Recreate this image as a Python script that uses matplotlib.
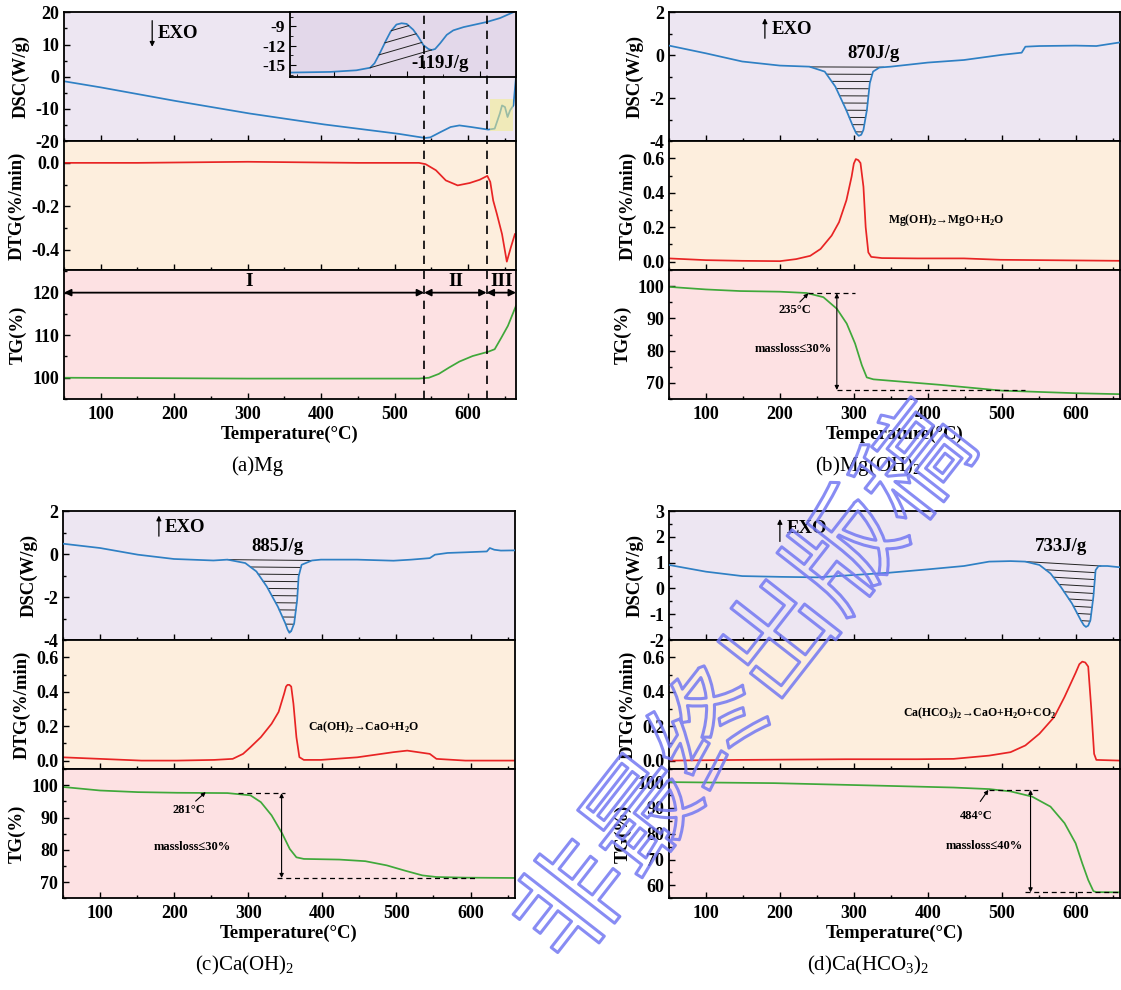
import numpy as np
import matplotlib
matplotlib.use('Agg')
import matplotlib.pyplot as plt
from matplotlib.ticker import MultipleLocator, FormatStrFormatter
from matplotlib.patches import Rectangle
from matplotlib.lines import Line2D
import matplotlib.transforms as mtransforms
import matplotlib.patheffects as pe

plt.rcParams['font.family'] = ['Liberation Serif', 'DejaVu Serif']
plt.rcParams['font.weight'] = 'bold'
plt.rcParams['axes.labelweight'] = 'bold'
plt.rcParams['mathtext.fontset'] = 'custom'
plt.rcParams['mathtext.rm'] = 'Liberation Serif:regular'
plt.rcParams['mathtext.bf'] = 'Liberation Serif:bold'
plt.rcParams['axes.unicode_minus'] = False

# ---------------- data ----------------
# (a) Mg
a_dsc_T = [50, 100, 201.5, 302.5, 404, 505, 530, 541.5, 548.5, 562, 576, 588, 604, 627, 636, 643, 646, 650, 653.5, 657, 661.5, 665]
a_dsc = [-1.4, -3.3, -7.5, -11.4, -14.8, -17.7, -18.6, -19.0, -18.8, -17.2, -15.6, -15.1, -15.6, -16.4, -16.1, -11.4, -8.9, -9.4, -12.5, -10.4, -8.9, 0.0]
a_in_T = [624, 629.5, 633.1, 635, 635.6, 636.3, 637.2, 637.8, 638.6, 639.3, 640, 640.9, 641.6, 642.3, 643, 643.4, 643.9, 644.6, 645.5, 646.4, 647.8, 651, 652.8, 654.6]
a_in = [-16.15, -16.05, -15.8, -15.4, -14.7, -13.2, -11.1, -9.8, -8.7, -8.5, -8.6, -9.5, -10.6, -11.9, -12.5, -12.65, -12.5, -11.6, -10.3, -9.6, -9.1, -8.3, -7.7, -6.8]
a_dtg_T = [50, 150, 300, 450, 533, 542, 556, 569.5, 585.6, 602, 615.5, 626, 630, 634, 639, 646, 652.5, 658, 663.5]
a_dtg = [0.0, 0.0, 0.005, 0.0, 0.0, -0.006, -0.034, -0.081, -0.104, -0.093, -0.078, -0.06, -0.088, -0.174, -0.236, -0.329, -0.456, -0.39, -0.329]
a_tg_T = [50, 300, 533, 546.5, 560, 574, 588, 606, 627, 636, 645, 654, 665]
a_tg = [100, 99.8, 99.8, 100, 100.9, 102.4, 103.8, 105.1, 106.1, 106.7, 109.4, 112.2, 116.9]

# (b) Mg(OH)2
b_dsc_T = [50, 100, 149, 200, 240, 260.6, 275, 289.6, 299, 303, 306.6, 310, 313, 317.7, 321.6, 326, 334.6, 350, 400, 449, 500, 527, 532, 551, 600, 628, 660]
b_dsc = [0.45, 0.09, -0.29, -0.48, -0.53, -0.76, -1.46, -2.54, -3.32, -3.62, -3.75, -3.7, -3.47, -2.54, -1.30, -0.76, -0.57, -0.53, -0.34, -0.22, 0.02, 0.12, 0.40, 0.43, 0.45, 0.43, 0.60]
b_dtg_T = [50, 100, 149, 200, 222, 241, 255, 270, 280, 290, 297, 300, 302.7, 306, 309, 313, 316, 319.6, 323.5, 338, 386, 449, 498, 660]
b_dtg = [0.018, 0.008, 0.004, 0.002, 0.014, 0.033, 0.073, 0.151, 0.229, 0.357, 0.494, 0.57, 0.596, 0.59, 0.573, 0.435, 0.2, 0.053, 0.027, 0.02, 0.018, 0.018, 0.01, 0.004]
b_tg_T = [50, 100, 146, 200, 236, 258.8, 277, 290.4, 301.7, 310.8, 317.5, 326.5, 416.7, 500, 600, 660]
b_tg = [99.8, 99.0, 98.5, 98.3, 97.9, 96.6, 93.0, 88.4, 82.2, 75.5, 71.7, 71.1, 69.4, 67.6, 66.8, 66.5]

# (c) Ca(OH)2
c_dsc_T = [50, 100, 151, 199.7, 253, 272, 296, 311, 325, 340, 350, 353, 355.5, 358, 362, 366, 368, 372, 386, 398, 447, 496, 520, 545, 552, 569, 593, 622, 626, 632, 641, 660]
c_dsc = [0.48, 0.28, -0.03, -0.23, -0.30, -0.26, -0.42, -0.81, -1.51, -2.45, -3.22, -3.5, -3.66, -3.58, -3.22, -2.13, -1.04, -0.50, -0.30, -0.26, -0.26, -0.31, -0.26, -0.19, -0.03, 0.05, 0.08, 0.12, 0.28, 0.20, 0.16, 0.17]
c_dtg_T = [50, 100, 156, 204, 254, 279, 293, 303, 317, 331.5, 341, 348.5, 351, 353, 355.5, 358, 361, 365, 369, 375, 398, 447, 496, 514.6, 529, 545, 554, 593, 660]
c_dtg = [0.019, 0.010, 0.0, 0.0, 0.004, 0.010, 0.039, 0.078, 0.136, 0.214, 0.283, 0.39, 0.43, 0.44, 0.44, 0.43, 0.33, 0.136, 0.02, 0.004, 0.004, 0.019, 0.049, 0.058, 0.049, 0.039, 0.01, 0.0, 0.0]
c_tg_T = [50, 100, 151, 204, 272, 303, 317, 331.5, 346, 356, 365, 375, 423, 458, 487, 511, 535, 554, 593, 660]
c_tg = [99.5, 98.4, 97.9, 97.7, 97.6, 96.9, 94.8, 90.7, 85.0, 80.3, 77.7, 77.2, 77.0, 76.5, 75.2, 73.6, 72.1, 71.6, 71.4, 71.3]

# (d) Ca(HCO3)2
d_dsc_T = [50, 100, 149, 200, 251, 299, 348, 400, 449, 483, 512, 532, 551, 566, 580, 595, 607, 611, 614, 617, 620, 624, 627, 631, 643, 660]
d_dsc = [0.91, 0.65, 0.48, 0.45, 0.43, 0.52, 0.61, 0.74, 0.87, 1.04, 1.06, 1.04, 0.91, 0.58, 0.06, -0.58, -1.23, -1.42, -1.49, -1.44, -1.23, -0.32, 0.71, 0.87, 0.87, 0.82]
d_dtg_T = [50, 144, 290, 386, 435, 483, 512, 532, 551, 571, 585, 600, 605, 609, 613, 617, 621, 625, 628, 660]
d_dtg = [0.0, 0.004, 0.008, 0.008, 0.01, 0.029, 0.049, 0.088, 0.156, 0.253, 0.37, 0.51, 0.56, 0.575, 0.57, 0.546, 0.31, 0.039, 0.004, 0.0]
d_tg_T = [50, 193, 338, 435, 483, 512, 541, 566, 585, 600, 609, 617, 624, 628, 660]
d_tg = [100, 99.6, 98.6, 97.9, 97.3, 96.4, 94.4, 90.5, 84.1, 76.3, 68.5, 62.1, 57.8, 57.4, 57.3]

captions = ['(a)Mg', '(b)Mg(OH)$_2$', '(c)Ca(OH)$_2$', '(d)Ca(HCO$_3$)$_2$']
enthalpy = ['-119J/g', '870J/g', '885J/g', '733J/g']
reactions = ['', 'Mg(OH)$_\\mathbf{2}$→MgO+H$_\\mathbf{2}$O',
             'Ca(OH)$_\\mathbf{2}$→CaO+H$_\\mathbf{2}$O',
             'Ca(HCO$_\\mathbf{3}$)$_\\mathbf{2}$→CaO+H$_\\mathbf{2}$O+CO$_\\mathbf{2}$']
onsets = ['', '235°C', '281°C', '484°C']
masslosses = ['', 'massloss≤30%', 'massloss≤30%', 'massloss≤40%']
stages = ['I', 'II', 'III']

# ---------------- style ----------------
C_DSC, C_DTG, C_TG = '#2f80c4', '#e82424', '#3fa83a'
BG_DSC, BG_DTG, BG_TG, BG_IN = '#ede6f2', '#fdeedd', '#fde1e3', '#e3d8ea'
W, H = 1121, 990
fig = plt.figure(figsize=(W / 100, H / 100), dpi=100)
all_axes = []


def panel(x0px, wpx, top_px, bot_px):
    h = (bot_px - top_px) / 3.0
    axs = []
    for i in range(3):
        t = top_px + i * h
        axs.append(fig.add_axes([x0px / W, 1 - (t + h) / H, wpx / W, h / H]))
    return axs


def style(ax, xlim, ylim, major, minor, fmt=None, xlabels=False, bg='w'):
    ax.set_facecolor(bg)
    ax.set_xlim(*xlim)
    ax.set_ylim(*ylim)
    ax.xaxis.set_major_locator(MultipleLocator(100))
    ax.xaxis.set_minor_locator(MultipleLocator(50))
    ax.yaxis.set_major_locator(MultipleLocator(major))
    ax.yaxis.set_minor_locator(MultipleLocator(minor))
    if fmt:
        ax.yaxis.set_major_formatter(FormatStrFormatter(fmt))
    ax.tick_params(which='both', direction='in', top=False, right=False, labelsize=13, width=1.0)
    ax.tick_params(which='major', length=4.5)
    ax.tick_params(which='minor', length=2.5)
    ax.tick_params(axis='x', labelbottom=xlabels, pad=5)
    for s in ax.spines.values():
        s.set_linewidth(1.3)
    if xlabels:
        ax.set_xlabel('Temperature(°C)', fontsize=13.5, labelpad=2)
    all_axes.append(ax)


def hatch(ax, T, Y, xa, xb, step, n, sign=-1, lw=0.7):
    Tg = np.linspace(min(T), max(T), 6000)
    Yg = np.interp(Tg, T, Y)
    ya, yb = np.interp(xa, T, Y), np.interp(xb, T, Y)
    slope = (yb - ya) / (xb - xa)
    ax.plot([xa, xb], [ya, yb], color='#222222', lw=lw, zorder=2)
    rng = (Tg >= xa) & (Tg <= xb)
    idx = np.where(rng)[0]
    ext = idx[np.argmax(sign * Yg[idx])]
    for k in range(1, n):
        line = ya + slope * (Tg - xa) + sign * k * step
        inside = sign * (Yg - line) > 0
        if not inside[ext]:
            continue
        i0 = ext
        while i0 > 0 and inside[i0 - 1]:
            i0 -= 1
        i1 = ext
        while i1 < len(Tg) - 1 and inside[i1 + 1]:
            i1 += 1
        ax.plot([Tg[i0], Tg[i1]], [line[i0], line[i1]], color='#222222', lw=lw, zorder=2)


def exo(ax, x, y0, y1, tx, ty):
    ax.annotate('', xy=(x, y1), xytext=(x, y0),
                arrowprops=dict(arrowstyle='-|>', color='k', lw=0.9, mutation_scale=7, shrinkA=0, shrinkB=0))
    ax.text(tx, ty, 'EXO', fontsize=13.5, ha='left', va='center')


def tg_annot(ax, i, xt0, xt1, ytop, xarr, ybot, xb0, xb1, lpos, arr0, arr1, mpos):
    ds = (0, (4, 3))
    ax.plot([xt0, xt1], [ytop, ytop], ls=ds, color='k', lw=0.9)
    ax.plot([xb0, xb1], [ybot, ybot], ls=ds, color='k', lw=0.9)
    ax.annotate('', xy=(xarr, ybot), xytext=(xarr, ytop),
                arrowprops=dict(arrowstyle='<|-|>', color='k', lw=0.8, mutation_scale=6, shrinkA=0, shrinkB=0))
    ax.annotate('', xy=arr1, xytext=arr0,
                arrowprops=dict(arrowstyle='-|>', color='k', lw=0.8, mutation_scale=6, shrinkA=0, shrinkB=0))
    ax.text(*lpos, onsets[i], fontsize=9, ha='center', va='center')
    ax.text(*mpos, masslosses[i], fontsize=9, ha='center', va='center')


LW = 1.25
# ---------------- (a) ----------------
axa = panel(64, 452, 12.3, 399)
style(axa[0], (50, 665), (-20, 20), 10, 5, bg=BG_DSC)
style(axa[1], (50, 665), (-0.495, 0.10), 0.2, 0.1, '%.1f', bg=BG_DTG)
style(axa[2], (50, 665), (95, 125.3), 10, 5, xlabels=True, bg=BG_TG)
axa[0].plot(a_dsc_T, a_dsc, color=C_DSC, lw=LW)
axa[0].add_patch(Rectangle((630, -16.9), 31, 10.1, facecolor='#f3ee8a', alpha=0.55, edgecolor='none', zorder=3))
axa[1].plot(a_dtg_T, a_dtg, color=C_DTG, lw=LW)
axa[2].plot(a_tg_T, a_tg, color=C_TG, lw=LW)
exo(axa[0], 170, 17.4, 9.3, 178, 13.4)

axin = axa[0].inset_axes([0.5, 0.5, 0.5, 0.5])
axin.set_facecolor(BG_IN)
axin.set_xlim(624, 655)
axin.set_ylim(-16.8, -6.8)
axin.xaxis.set_major_locator(MultipleLocator(10))
axin.xaxis.set_minor_locator(MultipleLocator(5))
axin.yaxis.set_major_locator(MultipleLocator(3))
axin.yaxis.set_minor_locator(MultipleLocator(1.5))
axin.tick_params(which='both', direction='in', top=False, right=False, labelbottom=False, labelsize=12.5)
axin.tick_params(which='major', length=4)
axin.tick_params(which='minor', length=2)
for s in axin.spines.values():
    s.set_linewidth(1.3)
axin.plot(a_in_T, a_in, color=C_DSC, lw=LW)
hatch(axin, a_in_T, a_in, 635, 643.4, 1.6, 4, sign=1)
axin.text(644.6, -14.7, enthalpy[0], fontsize=13.5, ha='center', va='center')
all_axes.append(axin)

# stage arrows
bounds = [50, 540, 625, 665]
for j in range(3):
    axa[2].annotate('', xy=(bounds[j + 1], 120), xytext=(bounds[j], 120),
                    arrowprops=dict(arrowstyle='<|-|>', color='k', lw=1.3, mutation_scale=10, shrinkA=0, shrinkB=0))
for lab, x in zip(stages, [302, 583, 646]):
    axa[2].text(x, 122.6, lab, fontsize=14, ha='center', va='center')

# dashed vertical lines across all three panels
top_f = axa[0].get_position().y1
bot_f = axa[2].get_position().y0
tr = mtransforms.blended_transform_factory(axa[2].transData, fig.transFigure)
for xv in [540, 625]:
    fig.add_artist(Line2D([xv, xv], [bot_f, top_f], transform=tr, color='k', lw=1.2,
                          ls=(0, (5, 4)), zorder=20))

# ---------------- (b) ----------------
axb = panel(669, 451, 12.3, 399)
style(axb[0], (50, 660), (-4, 2), 2, 1, bg=BG_DSC)
style(axb[1], (50, 660), (-0.05, 0.70), 0.2, 0.1, '%.1f', bg=BG_DTG)
style(axb[2], (50, 660), (65, 105), 10, 5, xlabels=True, bg=BG_TG)
axb[0].plot(b_dsc_T, b_dsc, color=C_DSC, lw=LW, zorder=3)
hatch(axb[0], b_dsc_T, b_dsc, 241, 340, 0.335, 10)
axb[0].text(326, 0.1, enthalpy[1], fontsize=13.5, ha='center', va='center')
exo(axb[0], 179.7, 0.79, 1.72, 189.4, 1.21)
axb[1].plot(b_dtg_T, b_dtg, color=C_DTG, lw=LW)
axb[1].text(346.8, 0.239, reactions[1], fontsize=8.5, ha='left', va='center')
axb[2].plot(b_tg_T, b_tg, color=C_TG, lw=LW)
tg_annot(axb[2], 1, 238.5, 301.7, 97.8, 277, 67.8, 277, 531.7, (220.5, 92.5), (227, 95.1), (238.5, 97.8), (218, 80.5))

# ---------------- (c) ----------------
axc = panel(63, 452, 511, 898.3)
style(axc[0], (50, 660), (-4, 2), 2, 1, bg=BG_DSC)
style(axc[1], (50, 660), (-0.05, 0.70), 0.2, 0.1, '%.1f', bg=BG_DTG)
style(axc[2], (50, 660), (65, 105), 10, 5, xlabels=True, bg=BG_TG)
axc[0].plot(c_dsc_T, c_dsc, color=C_DSC, lw=LW, zorder=3)
hatch(axc[0], c_dsc_T, c_dsc, 272, 386, 0.33, 11)
axc[0].text(340, 0.36, enthalpy[2], fontsize=13.5, ha='center', va='center')
exo(axc[0], 179.4, 0.83, 1.79, 187.6, 1.21)
axc[1].plot(c_dtg_T, c_dtg, color=C_DTG, lw=LW)
axc[1].text(380, 0.195, reactions[2], fontsize=8.5, ha='left', va='center')
axc[2].plot(c_tg_T, c_tg, color=C_TG, lw=LW)
tg_annot(axc[2], 2, 286, 349, 97.6, 345, 71.3, 339, 608, (219.6, 92.5), (229, 95.1), (242.6, 97.9), (224, 80.8))

# ---------------- (d) ----------------
axd = panel(669, 451, 511, 898.3)
style(axd[0], (50, 660), (-2, 3), 1, 0.5, bg=BG_DSC)
style(axd[1], (50, 660), (-0.05, 0.70), 0.2, 0.1, '%.1f', bg=BG_DTG)
style(axd[2], (50, 660), (55, 105), 10, 5, xlabels=True, bg=BG_TG)
axd[0].plot(d_dsc_T, d_dsc, color=C_DSC, lw=LW, zorder=3)
hatch(axd[0], d_dsc_T, d_dsc, 532, 634, 0.27, 10)
axd[0].text(580, 1.62, enthalpy[3], fontsize=13.5, ha='center', va='center')
exo(axd[0], 200, 1.82, 2.69, 208.8, 2.31)
axd[1].plot(d_dtg_T, d_dtg, color=C_DTG, lw=LW)
axd[1].text(366, 0.277, reactions[3], fontsize=8.5, ha='left', va='center')
axd[2].plot(d_tg_T, d_tg, color=C_TG, lw=LW)
tg_annot(axd[2], 3, 483, 551, 97.0, 539, 57.3, 532, 660, (466, 86.7), (471, 92.5), (482, 97.0), (476, 75.3))

for grp in (axa, axb, axc, axd):
    grp[0].set_ylabel('DSC(W/g)', fontsize=13.5)
    grp[1].set_ylabel('DTG(%/min)', fontsize=13.5)
    grp[2].set_ylabel('TG(%)', fontsize=13.5)
    fig.align_ylabels(grp)

# bold tick labels
for ax in all_axes:
    for lbl in ax.get_xticklabels() + ax.get_yticklabels():
        lbl.set_fontweight('bold')

# captions
for (cx, cy), cap in zip([(257, 466), (868, 466), (245, 965), (868, 965)], captions):
    fig.text(cx / W, 1 - cy / H, cap, fontsize=15, fontweight='normal', ha='center', va='center')

# watermark
fig.text(748 / W, 1 - 686 / H, '非最终出版稿', fontsize=80, rotation=52, ha='center', va='center',
         family=['Noto Sans CJK SC', 'DejaVu Sans'], fontweight='normal', color='none', zorder=30,
         path_effects=[pe.Stroke(linewidth=2.2, foreground=(0.45, 0.47, 0.95, 0.85))])

fig.savefig('out.png', dpi=100)
